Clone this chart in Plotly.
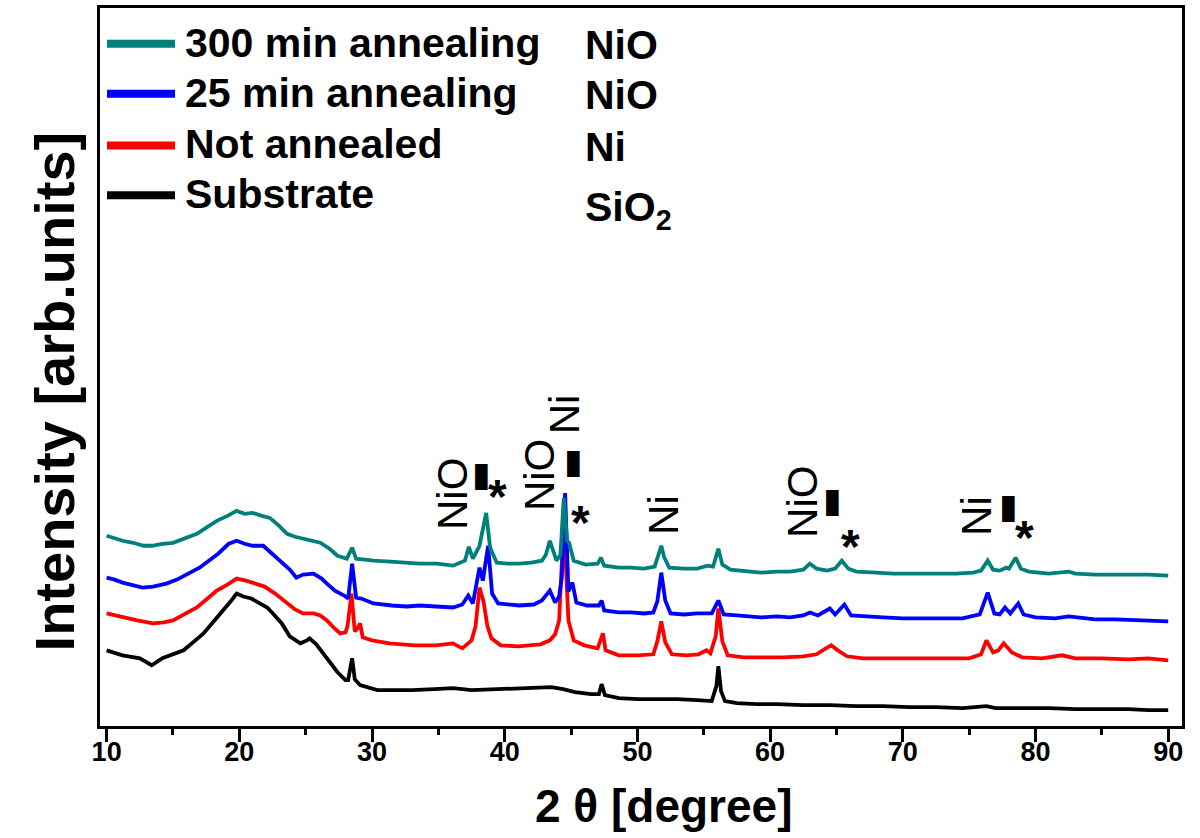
import plotly.graph_objects as go

# ---------------- data ----------------
series_names = ["300 min annealing", "25 min annealing", "Not annealed", "Substrate"]
series_colors = ["#00807A", "#0000FF", "#FF0000", "#000000"]
phase_labels = ["NiO", "NiO", "Ni", "SiO<sub>2</sub>"]

two_theta_300 = [10.0, 10.6, 11.2, 12.0, 12.8, 13.4, 14.2, 15.0, 15.9, 16.8, 17.6, 18.3, 19.1, 19.8, 20.4, 21.0,
                 21.7, 22.3, 23.0, 23.6, 24.2, 24.8, 25.5, 26.1, 26.8, 27.4, 28.1, 28.5, 28.8, 29.4, 30.1, 31.4,
                 32.6, 33.6, 34.9, 36.1, 37.0, 37.3, 37.6, 38.1, 38.6, 38.9, 39.4, 40.2, 41.1, 42.0, 42.8, 43.1,
                 43.4, 43.7, 43.9, 44.2, 44.45, 44.7, 44.85, 45.2, 46.1, 47.0, 47.25, 47.5, 48.6, 49.5, 50.5, 51.3,
                 51.6, 51.8, 52.0, 52.4, 53.5, 54.5, 55.3, 55.7, 56.1, 56.4, 57.0, 58.0, 59.3, 60.5, 61.5, 62.5,
                 63.0, 63.5, 64.3, 64.9, 65.4, 65.9, 66.5, 68.0, 69.3, 71.0, 72.5, 74.0, 75.3, 75.9, 76.4, 76.8,
                 77.3, 77.8, 78.0, 78.5, 78.9, 79.5, 81.0, 82.5, 83.0, 84.5, 86.0, 87.5, 88.5, 90.0]
intensity_300 = [191, 188, 186, 184, 181, 181, 183, 184, 188, 193, 200, 206, 211, 216, 213, 214,
                 211, 209, 201, 193, 190, 188, 186, 184, 178, 171, 168, 179, 168, 167, 166, 165,
                 164, 163, 163, 161, 166, 180, 168, 181, 214, 179, 164, 163, 163, 164, 166, 172,
                 186, 172, 166, 172, 229, 186, 184, 166, 162, 163, 169, 161, 159, 159, 158, 160,
                 172, 181, 170, 159, 158, 158, 161, 160, 178, 162, 157, 156, 154, 155, 155, 157,
                 163, 158, 156, 158, 166, 158, 155, 154, 153, 153, 153, 153, 154, 156, 166, 157,
                 156, 159, 158, 169, 158, 155, 153, 155, 153, 152, 152, 152, 152, 151]

two_theta_25 = [10.0, 10.6, 11.2, 12.0, 12.7, 13.5, 14.5, 15.3, 16.2, 17.0, 17.7, 18.4, 19.2, 19.8, 20.4, 21.0,
                21.8, 22.4, 23.1, 23.8, 24.3, 24.8, 25.6, 26.2, 26.6, 27.2, 27.9, 28.2, 28.5, 28.8, 29.2, 30.1,
                31.5, 32.6, 33.6, 34.9, 36.1, 36.8, 37.25, 37.6, 38.1, 38.35, 38.75, 39.05, 39.5, 41.1, 42.2, 42.8,
                43.4, 43.8, 44.1, 44.3, 44.55, 44.8, 45.1, 45.4, 46.2, 47.1, 47.3, 47.5, 48.6, 49.5, 50.5, 51.2,
                51.5, 51.8, 52.1, 52.5, 53.5, 54.5, 55.6, 56.1, 56.5, 57.5, 59.3, 60.5, 61.5, 62.5, 63.0, 63.6,
                64.5, 64.9, 65.6, 66.1, 67.0, 68.5, 70.0, 71.5, 73.0, 74.5, 75.8, 76.4, 76.9, 77.3, 77.7, 78.1,
                78.7, 79.1, 80.0, 81.5, 82.5, 83.2, 84.5, 86.0, 88.0, 90.0]
intensity_25 = [149, 147, 144, 141, 139, 140, 143, 147, 153, 159, 166, 173, 183, 186, 183, 181,
                181, 174, 166, 157, 149, 152, 153, 148, 143, 136, 131, 128, 163, 129, 128, 123,
                121, 120, 121, 120, 119, 122, 131, 123, 159, 146, 181, 133, 123, 121, 122, 126,
                136, 124, 130, 149, 234, 135, 144, 124, 121, 121, 126, 116, 114, 114, 113, 114,
                125, 154, 126, 113, 112, 113, 113, 126, 112, 111, 109, 110, 109, 111, 114, 111,
                118, 112, 122, 111, 110, 109, 108, 108, 108, 108, 112, 134, 113, 112, 119, 113,
                123, 112, 109, 108, 110, 109, 107, 107, 106, 105]

two_theta_na = [10.0, 10.6, 11.2, 12.3, 13.5, 14.3, 15.0, 15.9, 16.8, 17.6, 18.3, 19.1, 19.8, 20.5, 21.0, 21.9,
                22.7, 23.4, 24.2, 24.8, 25.6, 26.1, 26.6, 27.1, 27.6, 28.0, 28.15, 28.45, 28.7, 28.9, 29.1, 29.3,
                30.0, 31.3, 33.2, 34.8, 36.1, 36.8, 37.5, 37.8, 38.1, 38.4, 38.7, 39.0, 39.7, 41.0, 42.7, 43.4,
                43.8, 44.1, 44.45, 44.8, 45.2, 46.0, 47.0, 47.4, 47.6, 48.6, 50.0, 51.2, 51.5, 51.8, 52.1, 52.6,
                53.7, 54.6, 55.2, 55.5, 55.9, 56.1, 56.4, 56.8, 58.0, 59.5, 61.0, 62.5, 63.5, 64.2, 64.6, 65.1,
                65.8, 67.0, 69.0, 71.0, 73.0, 75.0, 75.9, 76.3, 76.8, 77.2, 77.6, 78.2, 79.0, 80.5, 82.0, 83.0,
                85.0, 87.0, 88.5, 90.0]
intensity_na = [113, 111, 109, 106, 103, 104, 106, 112, 119, 128, 136, 142, 148, 146, 144, 140,
                133, 126, 117, 113, 113, 111, 106, 99, 93, 94, 100, 133, 95, 98, 103, 89,
                86, 83, 81, 81, 83, 78, 86, 100, 139, 125, 100, 88, 81, 80, 82, 86,
                92, 106, 206, 106, 86, 81, 78, 93, 76, 71, 71, 72, 85, 105, 84, 72,
                71, 72, 76, 73, 90, 118, 85, 71, 69, 69, 69, 70, 72, 78, 81, 76,
                70, 68, 68, 68, 68, 68, 72, 86, 74, 76, 83, 74, 69, 68, 71, 68,
                68, 67, 68, 66]

two_theta_sub = [10.0, 10.6, 11.2, 12.5, 13.4, 14.2, 15.0, 15.8, 16.6, 17.3, 18.0, 18.8, 19.4, 19.8, 20.3, 20.9,
                 21.6, 22.1, 22.6, 23.2, 23.8, 24.6, 25.1, 25.3, 25.8, 26.3, 27.0, 27.4, 28.0, 28.2, 28.5, 28.7,
                 29.1, 29.8, 30.4, 31.5, 33.0, 34.7, 36.1, 37.5, 39.5, 41.0, 42.5, 43.5, 44.4, 45.3, 46.5, 47.1,
                 47.3, 47.55, 48.6, 50.0, 51.5, 53.0, 54.5, 55.6, 55.95, 56.1, 56.3, 56.6, 57.5, 59.0, 60.5, 62.5,
                 64.5, 66.5, 68.5, 70.5, 72.5, 74.5, 76.3, 77.0, 79.0, 81.0, 83.0, 85.0, 87.0, 88.5, 90.0]
intensity_sub = [76, 73, 71, 68, 61, 68, 72, 76, 85, 93, 104, 116, 126, 133, 130, 128,
                 123, 119, 112, 103, 90, 83, 86, 88, 82, 73, 61, 54, 46, 46, 68, 47,
                 41, 38, 36, 36, 36, 37, 38, 36, 37, 37, 38, 39, 37, 34, 32, 32,
                 42, 31, 28, 27, 27, 27, 26, 25, 40, 60, 35, 25, 23, 22, 22, 21,
                 21, 20, 20, 19, 19, 18, 20, 18, 18, 18, 17, 17, 17, 16, 16]

tick_values = [10, 20, 30, 40, 50, 60, 70, 80, 90]

peak_texts = ["NiO", "\u25AE", "*", "NiO", "Ni", "\u25AE", "*", "Ni", "NiO", "\u25AE", "*", "Ni", "\u25AE", "*"]

# ---------------- figure ----------------
W, H = 1200, 838
L, R, T, B = 100, 18, 5, 112          # plot area 100..1182 x 5..726 px
X0, X1 = 9.5, 91.04
Y0, Y1 = 0, 721
pw, ph = W - L - R, H - T - B


def deg(px):
    return X0 + (px - L) * (X1 - X0) / pw


def val(py):
    return Y1 - (py - T) * (Y1 - Y0) / ph


def px_x(px):
    return (px - L) / pw


def px_y(py):
    return 1 - (py - T) / ph


series = [
    (two_theta_300, intensity_300),
    (two_theta_25, intensity_25),
    (two_theta_na, intensity_na),
    (two_theta_sub, intensity_sub),
]

fig = go.Figure()
for i in reversed(range(4)):
    xs, ys = series[i]
    fig.add_trace(go.Scatter(x=xs, y=ys, mode="lines", name=series_names[i],
                             line=dict(color=series_colors[i], width=3.8), showlegend=False,
                             hoverinfo="skip"))
# invisible trace carrying the secondary (tick-mark) x axis
fig.add_trace(go.Scatter(x=[X0, X1], y=[Y0, Y0], mode="lines", xaxis="x2", yaxis="y",
                         line=dict(width=0), showlegend=False, hoverinfo="skip", opacity=0))

FONT = "Liberation Sans, Arial, sans-serif"

annotations = []
shapes = []

# manual legend
leg_y = [41, 91, 143, 193]
for i in range(4):
    shapes.append(dict(type="line", xref="paper", yref="paper",
                       x0=px_x(107), x1=px_x(175), y0=px_y(leg_y[i]), y1=px_y(leg_y[i]),
                       line=dict(color=series_colors[i], width=8)))
    annotations.append(dict(text=series_names[i], xref="paper", yref="paper",
                            x=px_x(183), y=px_y(leg_y[i] - 1), xanchor="left", yanchor="middle",
                            showarrow=False, font=dict(family=FONT, size=41, weight="bold", color="black")))
phase_y = [42, 92, 145, 208]
for i in range(4):
    annotations.append(dict(text=phase_labels[i], xref="paper", yref="paper",
                            x=px_x(583), y=px_y(phase_y[i]), xanchor="left", yanchor="middle",
                            showarrow=False, font=dict(family=FONT, size=41, weight="bold", color="black")))

# peak markers (positions in px of the picture -> data coords)
peak_pos = [(453, 493, True), (481, 473, False), (497, 496, False),
            (539, 474, True), (564, 413, True), (573, 460, False), (580, 522, False),
            (664, 514, True),
            (803, 501, True), (832, 499, False), (850, 546, False),
            (977, 515, True), (1008, 505, False), (1024, 537, False)]
for t, (px, py, rot) in zip(peak_texts, peak_pos):
    if rot:
        f = dict(family=FONT, size=42, color="black")
        ang = -90
    elif t == "*":
        f = dict(family=FONT, size=48, weight="bold", color="black")
        ang = 0
    else:
        f = dict(family="DejaVu Sans", size=34, color="black")
        ang = 0
    annotations.append(dict(text=t, x=deg(px), y=val(py), xref="x", yref="y",
                            xanchor="center", yanchor="middle", textangle=ang,
                            showarrow=False, font=f))

# axis titles
annotations.append(dict(text="2 \u03b8 [degree]", xref="paper", yref="paper",
                        x=px_x(664), y=px_y(806), xanchor="center", yanchor="middle",
                        showarrow=False, font=dict(family=FONT, size=46, weight="bold", color="black")))
annotations.append(dict(text="Intensity [arb.units]", xref="paper", yref="paper",
                        x=px_x(54), y=px_y(390), xanchor="center", yanchor="middle", textangle=-90,
                        showarrow=False, font=dict(family=FONT, size=56, weight="bold", color="black")))

fig.update_layout(
    width=W, height=H,
    margin=dict(l=L, r=R, t=T, b=B, pad=0),
    paper_bgcolor="white", plot_bgcolor="white",
    showlegend=False,
    annotations=annotations, shapes=shapes,
    font=dict(family=FONT, color="black"),
    xaxis=dict(range=[X0, X1], tickvals=tick_values, ticks="", showline=True, linewidth=3,
               linecolor="black", mirror=True, showgrid=False, zeroline=False, ticklabelstandoff=0,
               tickfont=dict(family=FONT, size=27, weight="bold", color="black")),
    xaxis2=dict(range=[X0, X1], overlaying="x", side="bottom", tickvals=tick_values,
                ticks="outside", ticklen=15, tickwidth=3, tickcolor="black",
                showticklabels=False, showline=False, showgrid=False, zeroline=False,
                minor=dict(dtick=5, tick0=0, ticks="outside", ticklen=8, tickwidth=3, tickcolor="black")),
    yaxis=dict(range=[Y0, Y1], showticklabels=False, ticks="", showline=True, linewidth=3,
               linecolor="black", mirror=True, showgrid=False, zeroline=False),
)

fig.write_html("out.html", config={"displayModeBar": False},
               post_script="document.body.style.margin='0';document.body.style.overflow='hidden';")
